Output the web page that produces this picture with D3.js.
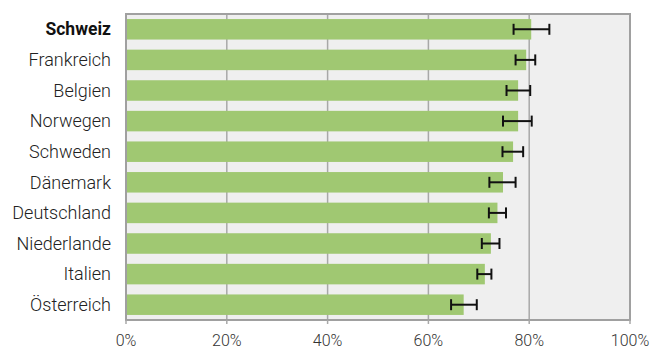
<html>
<head>
<meta charset="utf-8">
<script src="https://d3js.org/d3.v7.min.js"></script>
<style>
    body { margin: 0; background: #fff; }
    text { font-family: Roboto, "Noto Sans", sans-serif; }
    .cat { font-size: 18px; fill: #222; text-anchor: end; font-weight: 300; }
    .cat.hl { font-weight: bold; fill: #111; font-size: 17.5px; }
    .tick-label { font-size: 16px; fill: #333; text-anchor: middle; font-weight: 300; }
    .grid { stroke: #a8a8a8; stroke-width: 1.5px; }
    .frame { fill: none; stroke: #a0a0a0; stroke-width: 2px; }
    .bar { fill: #a0c872; }
    .err { stroke: #111; stroke-width: 2px; fill: none; }
</style>
</head>
<body>
<svg width=654 height=349></svg>
<script>
    // data
    let countries = ['Schweiz', 'Frankreich', 'Belgien', 'Norwegen', 'Schweden',
        'Dänemark', 'Deutschland', 'Niederlande', 'Italien', 'Österreich'];
    let values = [80.4, 79.4, 77.8, 77.8, 76.8, 74.8, 73.7, 72.4, 71.2, 67.0];
    let errLow = [76.9, 77.3, 75.5, 74.8, 74.7, 72.1, 72.0, 70.6, 69.7, 64.5];
    let errHigh = [84.0, 81.2, 80.2, 80.5, 78.8, 77.3, 75.4, 74.1, 72.5, 69.6];
    let ticks = [0, 20, 40, 60, 80, 100];
    let highlight = 'Schweiz';

    let svg = d3.select('svg'),
        margin = { top: 14, right: 24, bottom: 29, left: 126 },
        width = +svg.attr('width') - margin.left - margin.right,
        height = +svg.attr('height') - margin.top - margin.bottom,
        g = svg.append('g')
            .attr('transform', 'translate(' + margin.left + ',' + margin.top + ')');

    let x = d3.scaleLinear().domain([0, 100]).range([0, width]);
    let y = d3.scaleBand().domain(countries).range([0, height]).paddingInner(0.33).paddingOuter(0.165);

    let rows = countries.map((c, i) => ({ c: c, v: values[i], lo: errLow[i], hi: errHigh[i] }));

    // background
    g.append('rect')
        .attr('width', width)
        .attr('height', height)
        .attr('fill', '#efefef');

    // gridlines
    g.selectAll('.grid')
        .data(ticks.slice(1, -1))
        .enter()
        .append('line')
        .attr('class', 'grid')
        .attr('x1', d => x(d))
        .attr('x2', d => x(d))
        .attr('y1', 0)
        .attr('y2', height);

    // bars
    g.selectAll('.bar')
        .data(rows)
        .enter()
        .append('rect')
        .attr('class', 'bar')
        .attr('x', 0)
        .attr('y', d => y(d.c))
        .attr('width', d => x(d.v))
        .attr('height', y.bandwidth());

    // error bars
    let cap = 5.5;
    let err = g.selectAll('.errg')
        .data(rows)
        .enter()
        .append('g')
        .attr('class', 'err')
        .attr('transform', d => 'translate(0,' + (y(d.c) + y.bandwidth() / 2) + ')');
    err.append('line').attr('x1', d => x(d.lo)).attr('x2', d => x(d.hi));
    err.append('line').attr('x1', d => x(d.lo)).attr('x2', d => x(d.lo)).attr('y1', -cap).attr('y2', cap);
    err.append('line').attr('x1', d => x(d.hi)).attr('x2', d => x(d.hi)).attr('y1', -cap).attr('y2', cap);

    // frame
    g.append('rect')
        .attr('class', 'frame')
        .attr('width', width)
        .attr('height', height);

    // bottom tick marks
    g.selectAll('.tm')
        .data(ticks)
        .enter()
        .append('line')
        .attr('class', 'grid')
        .attr('x1', d => x(d))
        .attr('x2', d => x(d))
        .attr('y1', height)
        .attr('y2', height + 4);

    // x labels
    g.selectAll('.tick-label')
        .data(ticks)
        .enter()
        .append('text')
        .attr('class', 'tick-label')
        .attr('x', d => x(d))
        .attr('y', height + 26)
        .text(d => d + '%');

    // category labels
    g.selectAll('.cat')
        .data(countries)
        .enter()
        .append('text')
        .attr('class', d => d === highlight ? 'cat hl' : 'cat')
        .attr('x', -15)
        .attr('y', d => y(d) + y.bandwidth() / 2)
        .attr('dy', '0.35em')
        .text(d => d);
</script>
</body>
</html>
